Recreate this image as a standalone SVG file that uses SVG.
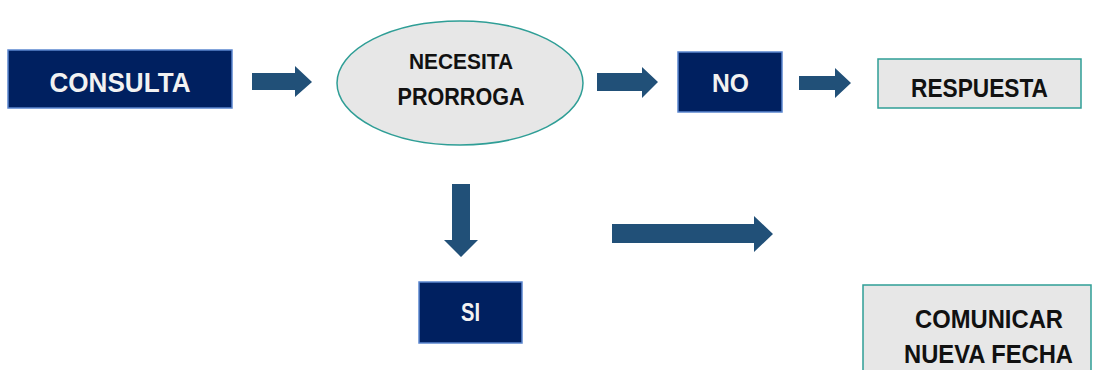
<svg xmlns="http://www.w3.org/2000/svg" width="1094" height="370" viewBox="0 0 1094 370">
<style>
.dark{fill:#002060;stroke:#5b86cf;stroke-width:1.5}
.light{fill:#e7e7e7;stroke:#2f9e96;stroke-width:1.5}
.arr{fill:#215078}
text{font-family:"Liberation Sans",Arial,sans-serif;font-weight:bold;text-anchor:middle}
.w{fill:#f2f2f2}
.b{fill:#111}
</style>
<rect width="1094" height="370" fill="#ffffff"/>
<g id="consulta"><rect class="dark" x="8" y="50" width="224" height="58"/><text class="w" x="120" y="92" font-size="27.5" textLength="141" lengthAdjust="spacingAndGlyphs">CONSULTA</text></g>
<g id="necesita"><ellipse class="light" cx="460" cy="83" rx="123" ry="62"/><text class="b" x="461" y="69" font-size="22.5" textLength="104" lengthAdjust="spacingAndGlyphs">NECESITA</text><text class="b" x="461" y="105" font-size="23" textLength="127" lengthAdjust="spacingAndGlyphs">PRORROGA</text></g>
<g id="no"><rect class="dark" x="678" y="52" width="104" height="60"/><text class="w" x="730.5" y="92" font-size="26" textLength="37" lengthAdjust="spacingAndGlyphs">NO</text></g>
<g id="respuesta"><rect class="light" x="878" y="59" width="203" height="49"/><text class="b" x="979.5" y="97" font-size="26" textLength="137" lengthAdjust="spacingAndGlyphs">RESPUESTA</text></g>
<g id="si"><rect class="dark" x="419" y="282" width="103" height="61"/><text class="w" x="470.5" y="321" font-size="25" textLength="19" lengthAdjust="spacingAndGlyphs">SI</text></g>
<g id="comunicar"><rect class="light" x="863" y="285" width="228" height="100"/><text class="b" x="989" y="328" font-size="25" textLength="148" lengthAdjust="spacingAndGlyphs">COMUNICAR</text><text class="b" x="988.5" y="363" font-size="25" textLength="169" lengthAdjust="spacingAndGlyphs">NUEVA FECHA</text></g>
<g id="connectors">
<polygon class="arr" points="252,73 295,73 295,66 312,82 295,97 295,90 252,90"/>
<polygon class="arr" points="597,73 642,73 642,67 658,82 642,98 642,91 597,91"/>
<polygon class="arr" points="799,76 835,76 835,68 851,83 835,98 835,90 799,90"/>
<polygon class="arr" points="452,184 470,184 470,240 478,240 461,257 444,240 452,240"/>
<polygon class="arr" points="612,224 754,224 754,216 773,234 754,252 754,243 612,243"/>
</g>
</svg>
